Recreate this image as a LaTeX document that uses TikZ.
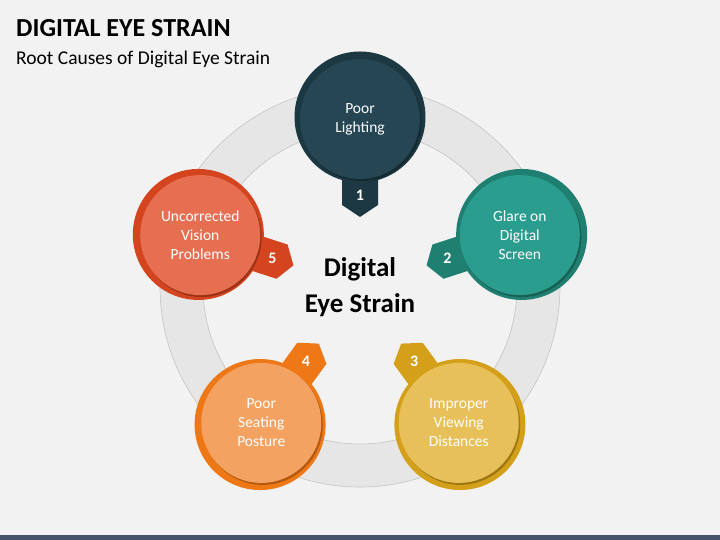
\documentclass[tikz,border=0pt]{standalone}
\usepackage{fontspec}
\setmainfont{Carlito}
\usetikzlibrary{calc,positioning}

\definecolor{bggray}{HTML}{F2F2F2}
\definecolor{barblue}{HTML}{44546A}
\definecolor{ringgray}{HTML}{E6E6E6}
\definecolor{ringline}{HTML}{C4C4C4}
\definecolor{navyd}{HTML}{1C3843}
\definecolor{navyl}{HTML}{264653}
\definecolor{teald}{HTML}{1F7F70}
\definecolor{teall}{HTML}{2A9D8F}
\definecolor{goldd}{HTML}{D4A01A}
\definecolor{goldl}{HTML}{E8C05A}
\definecolor{orangd}{HTML}{EE7716}
\definecolor{orangl}{HTML}{F4A261}
\definecolor{redd}{HTML}{D4441E}
\definecolor{redl}{HTML}{E76F51}

\begin{document}
\begin{tikzpicture}[x=1pt, y=1pt,
    outer/.style={circle, minimum size=131, inner sep=0},
    inner/.style={circle, minimum size=120, inner sep=0, text=white, align=center, font=\fontsize{15.5}{19}\selectfont},
    num/.style={text=white, font=\fontsize{16}{18}\selectfont\bfseries},
    shade/.style={fill=black, opacity=0.25}]
    \fill[bggray] (0,0) rectangle (720,540);
    \useasboundingbox (0,0) rectangle (720,540);
    \fill[barblue] (0,0) rectangle (720,5);

    \node[anchor=base west, inner sep=0, font=\fontsize{26}{30}\selectfont\bfseries] (title) at (16,503) {DIGITAL EYE STRAIN};
    \node[anchor=base west, inner sep=0, font=\fontsize{19.5}{23}\selectfont] (subtitle) at (16,475) {Root Causes of Digital Eye Strain};

    % ring
    \coordinate (ring) at (360,253);
    \draw[ringline, fill=ringgray, line width=0.6pt, even odd rule] (ring) circle (200) (ring) circle (157);

    \coordinate (p1) at ($(ring)+(90:170)$);
    \coordinate (p2) at ($(ring)+(18:170)$);
    \coordinate (p3) at ($(ring)+(-54:170)$);
    \coordinate (p4) at ($(ring)+(-126:170)$);
    \coordinate (p5) at ($(ring)+(162:170)$);

    % 1
    \begin{scope}[shift={(p1)}, rotate=-90]
        \fill[navyd] (50,18) -- (88,18) -- (100,0) -- (88,-18) -- (50,-18) -- cycle;
    \end{scope}
    \node[outer, fill=navyd] (o1) at (p1) {};
    \fill[shade] ($(p1)+(-90:2)+(1.5,-2)$) circle (60);
    \node[inner, fill=navyl] (c1) at ($(p1)+(-90:2)$) {Poor\\Lighting};
    \node[num] (n1) at ($(p1)+(-90:78)$) {1};

    % 2
    \begin{scope}[shift={(p2)}, rotate=198]
        \fill[teald] (50,18) -- (88,18) -- (100,0) -- (88,-18) -- (50,-18) -- cycle;
    \end{scope}
    \node[outer, fill=teald] (o2) at (p2) {};
    \fill[shade] ($(p2)+(198:2)+(1.5,-2)$) circle (60);
    \node[inner, fill=teall] (c2) at ($(p2)+(198:2)$) {Glare on\\Digital\\Screen};
    \node[num] (n2) at ($(p2)+(198:78)$) {2};

    % 3
    \begin{scope}[shift={(p3)}, rotate=126]
        \fill[goldd] (50,18) -- (88,18) -- (100,0) -- (88,-18) -- (50,-18) -- cycle;
    \end{scope}
    \node[outer, fill=goldd] (o3) at (p3) {};
    \fill[shade] ($(p3)+(126:2)+(1.5,-2)$) circle (60);
    \node[inner, fill=goldl] (c3) at ($(p3)+(126:2)$) {Improper\\Viewing\\Distances};
    \node[num] (n3) at ($(p3)+(126:78)$) {3};

    % 4
    \begin{scope}[shift={(p4)}, rotate=54]
        \fill[orangd] (50,18) -- (88,18) -- (100,0) -- (88,-18) -- (50,-18) -- cycle;
    \end{scope}
    \node[outer, fill=orangd] (o4) at (p4) {};
    \fill[shade] ($(p4)+(54:2)+(1.5,-2)$) circle (60);
    \node[inner, fill=orangl] (c4) at ($(p4)+(54:2)$) {Poor\\Seating\\Posture};
    \node[num] (n4) at ($(p4)+(54:78)$) {4};

    % 5
    \begin{scope}[shift={(p5)}, rotate=-18]
        \fill[redd] (50,18) -- (88,18) -- (100,0) -- (88,-18) -- (50,-18) -- cycle;
    \end{scope}
    \node[outer, fill=redd] (o5) at (p5) {};
    \fill[shade] ($(p5)+(-18:2)+(1.5,-2)$) circle (60);
    \node[inner, fill=redl] (c5) at ($(p5)+(-18:2)$) {Uncorrected\\Vision\\Problems};
    \node[num] (n5) at ($(p5)+(-18:78)$) {5};

    % centre
    \node[align=center, font=\fontsize{27}{36}\selectfont\bfseries] (hub) at (ring) {Digital\\Eye Strain};
\end{tikzpicture}
\end{document}
